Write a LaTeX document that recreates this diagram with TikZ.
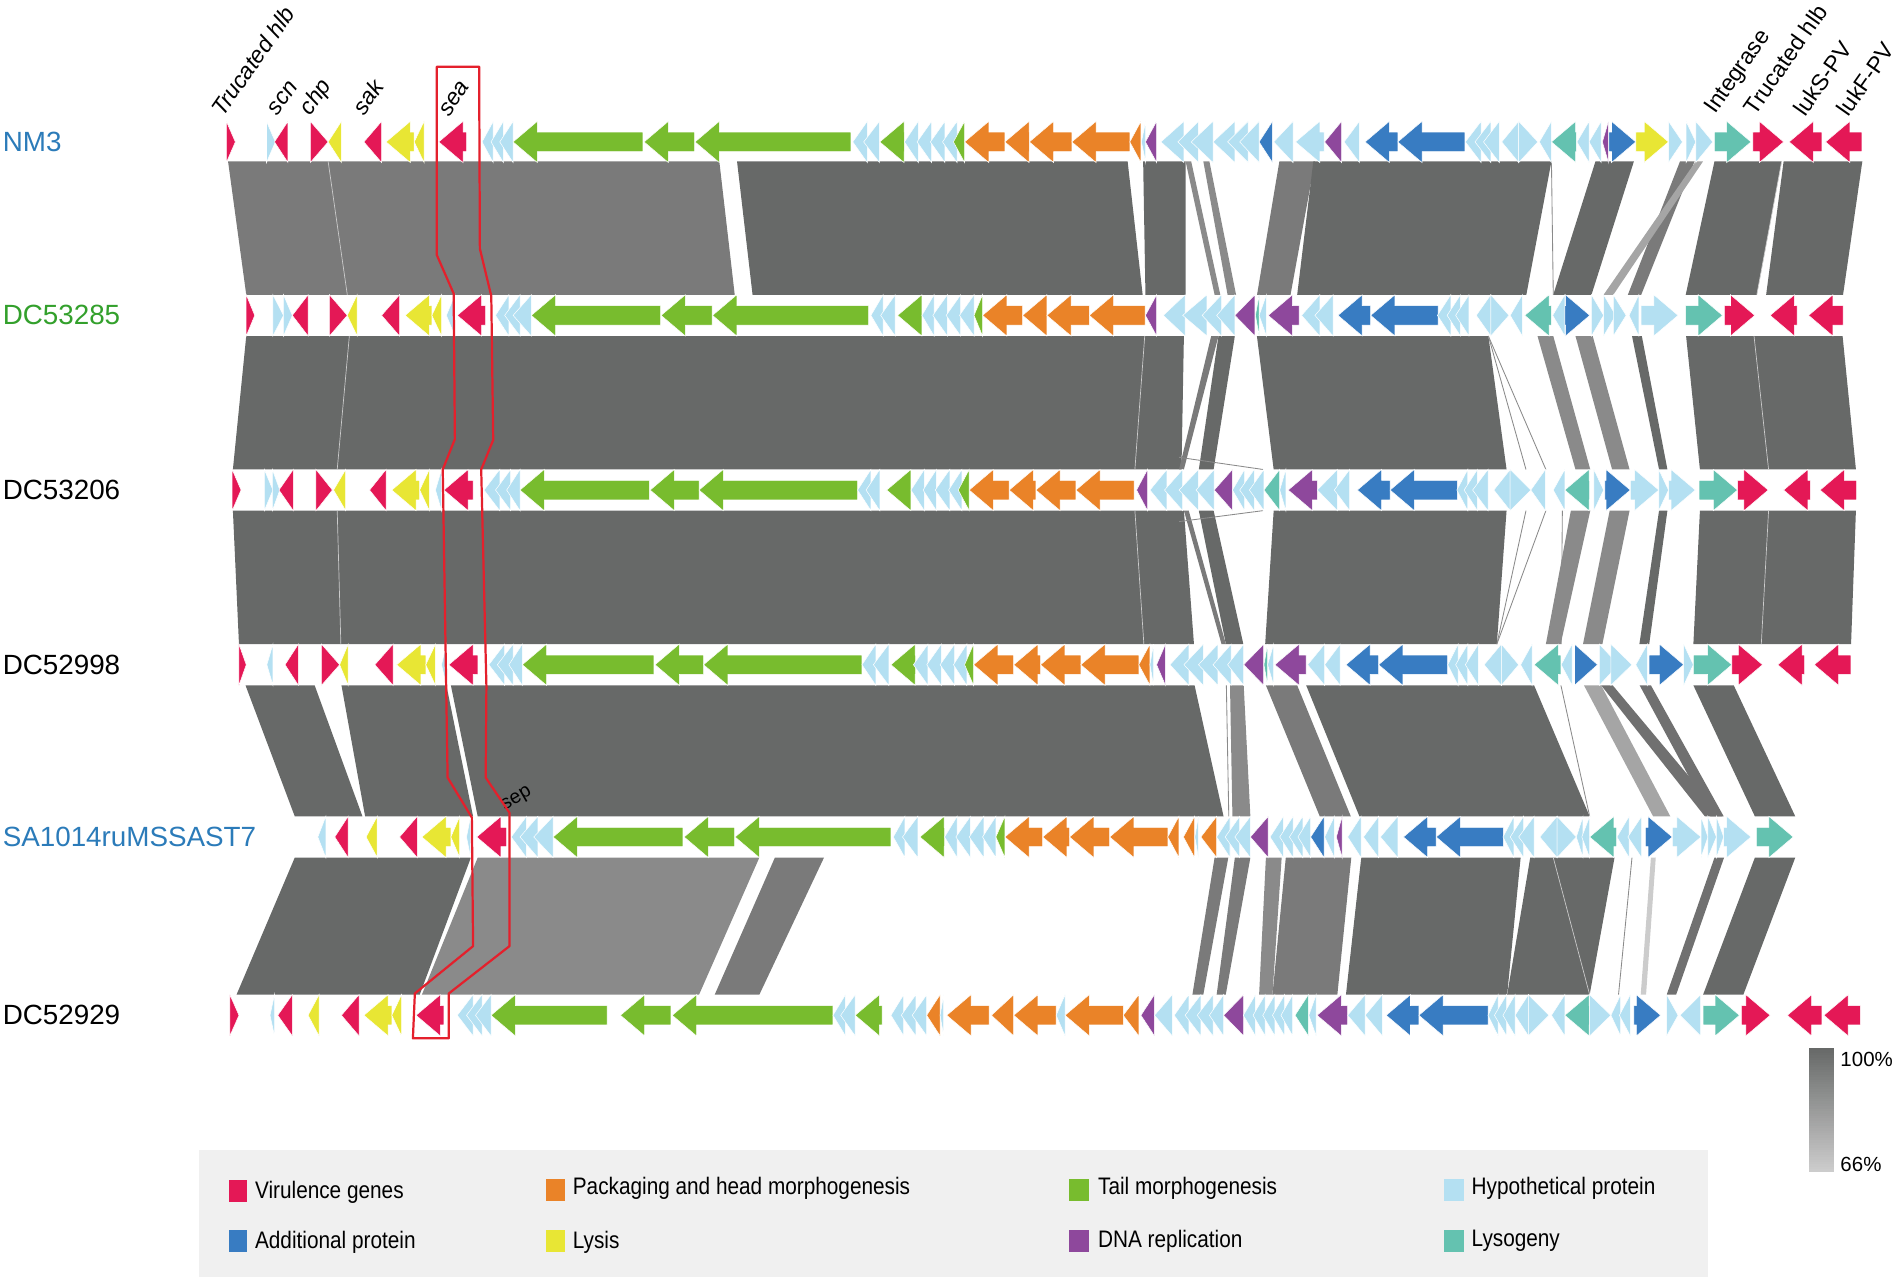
\documentclass[tikz,border=0pt]{standalone}
\usepackage{fontspec}
\setmainfont{Liberation Sans}
\newfontfamily\legendfont[FakeStretch=0.87]{Liberation Sans}
\usepackage{xcolor}
\usetikzlibrary{positioning}
\definecolor{vir}{RGB}{228,24,86}
\definecolor{pack}{RGB}{234,131,40}
\definecolor{tail}{RGB}{120,188,46}
\definecolor{hyp}{RGB}{180,224,242}
\definecolor{addp}{RGB}{56,124,194}
\definecolor{lys}{RGB}{232,230,52}
\definecolor{dna}{RGB}{142,72,156}
\definecolor{lyso}{RGB}{100,194,176}
\definecolor{simdark}{RGB}{103,105,104}
\definecolor{simmid}{RGB}{122,122,122}
\definecolor{simgray}{RGB}{138,138,138}
\definecolor{simlight}{RGB}{165,165,165}
\definecolor{simpale}{RGB}{204,204,204}
\definecolor{simdim}{RGB}{112,112,112}
\definecolor{labblue}{RGB}{43,123,185}
\definecolor{labgreen}{RGB}{51,160,44}
\definecolor{boxred}{RGB}{228,32,44}
\definecolor{legbg}{RGB}{240,240,240}

% one gene arrow: row y, tail x, tip x, colour
\newcommand{\gene}[4]{%
  \pgfmathsetmacro{\gl}{#3-(#2)}%
  \pgfmathsetmacro{\gh}{ifthenelse(\gl>20,20,ifthenelse(\gl<-20,-20,\gl))}%
  \pgfmathsetmacro{\gb}{#3-(\gh)}%
  \filldraw[fill=#4, draw=white, line width=0.3pt] (#2,#1-8) -- (\gb,#1-8) -- (\gb,#1-17) -- (#3,#1) -- (\gb,#1+17) -- (\gb,#1+8) -- (#2,#1+8) -- cycle;}
\newcommand{\generow}[2]{\foreach \a/\b/\c in {#2} {\gene{#1}{\a}{\b}{\c}}}
% similarity blocks between two rows: top y, bottom y, list tl/tr/br/bl/colour
\newcommand{\simband}[3]{\foreach \a/\b/\c/\d/\s in {#3} {\fill[\s] (\a,#1) -- (\b,#1) -- (\c,#2) -- (\d,#2) -- cycle;}}

\begin{document}
\begin{tikzpicture}[
    x=0.025cm, y=-0.025cm,
    rowlab/.style={anchor=west, inner sep=0pt, font=\fontsize{16.3}{19}\selectfont},
    genelab/.style={anchor=base west, rotate=55, inner sep=0pt, font=\fontsize{13.5}{16}\selectfont},
    leglab/.style={anchor=west, inner sep=0pt, font=\legendfont\fontsize{14}{16}\selectfont},
    thinlight/.style={draw=simpale, line width=0.4pt},
    thingray/.style={draw=simgray, line width=0.5pt}
]
\useasboundingbox (0,0) rectangle (1568,1057);

% Links
\simband{133}{243}{188/593/605.7/203/simmid, 607.6/929.6/942/620.4/simdark, 942.4/977.4/977.4/944.3/simdark,
  977.4/982/1006/1001.3/simgray, 992/997/1019/1012/simgray, 1054.7/1084/1063.9/1036.3/simmid,
  1082.7/1279/1258.3/1069.4/simdark, 1315.3/1347/1312/1280.5/simdark, 1385/1397/1353/1342/simmid,
  1398/1404/1330/1322/simlight, 1413.4/1468.8/1448.3/1389.7/simdark, 1470.4/1535.3/1519.4/1456/simdark}
\draw[thinlight] (270.5,133) -- (286.3,243);
\draw[thingray] (1279,133) -- (1280.5,243);
\draw[thinlight] (1468.8,133) -- (1448.3,243);

\simband{277}{387}{203/976/974/192/simdark, 998.5/1004.5/976/972/simmid, 1004.5/1018/1000.5/988.3/simdark,
  1036.2/1227/1242/1050/simdark, 1267.5/1280.5/1311/1298.8/simgray, 1298.8/1313/1343.4/1329/simgray,
  1345.4/1353.5/1374.6/1367.7/simdark, 1390/1519/1530/1401.4/simdark}
\draw[thinlight] (288,277) -- (278,387);
\draw[thinlight] (943.7,277) -- (935.6,387);
\draw[thingray] (1227,277) -- (1258,387);
\draw[thingray] (1227,277) -- (1274.4,387);
\draw[thinlight] (1446,277) -- (1458,387);
\draw[thingray] (972,377) -- (1041,387);

\simband{421}{531}{192/976/984.3/197/simdark, 976/980/1010.6/1007/simmid, 988.3/1000.5/1025/1010.6/simdark,
  1050/1242/1234/1043/simdark, 1295/1311/1286.6/1274.4/simgray, 1327/1343.4/1321/1305/simgray,
  1367.7/1374.6/1359.6/1351.5/simdark, 1401.4/1530/1526/1396/simdark}
\draw[thinlight] (278,421) -- (281,531);
\draw[thinlight] (935.6,421) -- (943,531);
\draw[thingray] (1258,421) -- (1234,531);
\draw[thingray] (1274.4,421) -- (1234,531);
\draw[thingray] (1288,421) -- (1287,531);
\draw[thinlight] (1458,421) -- (1452,531);
\draw[thingray] (972,430) -- (1041,421);

\simband{565}{673}{202.4/259.4/298.8/243/simdark, 281.5/368/390/301/simdark, 371.7/984.8/1008.7/393.8/simdark,
  1014/1025.3/1030.8/1016/simgray, 1043.6/1069.4/1113.6/1088/simmid, 1076.8/1264.7/1310.5/1120.7/simdark,
  1305.8/1320/1377/1362.8/simlight, 1320/1329.5/1420/1405.5/simdim, 1351.7/1361/1421/1410/simdim,
  1396/1429.3/1480/1446.7/simdark}
\draw[thingray] (1011,565) -- (1013,673);
\draw[thingray] (1286.8,565) -- (1310.5,673);

\simband{707}{820}{243/388.2/346/195/simdark, 393.8/626/576.3/347.8/simgray, 638.8/679.3/626/589.2/simmid,
  1001.3/1012.6/992/983/simmid, 1018/1030.8/1010.5/1003/simmid, 1043.6/1056.6/1049/1038/simgray,
  1060/1114/1102.5/1049/simmid, 1122.2/1253.6/1242.5/1109.6/simdark, 1261.5/1331/1310.5/1242.5/simdark,
  1361/1365/1357/1352.6/simpale, 1413.4/1421.3/1381.8/1374/simdim, 1446.7/1480/1437.2/1404/simdark}
\draw[thinlight] (1280.5,707) -- (1310.5,820);
\draw[thingray] (1345.4,707) -- (1334.3,820);

% Rows
\node[rowlab, text=labblue] (nm3) at (2,117) {NM3};
\node[rowlab, text=labgreen] (dc53285) at (2,260) {DC53285};
\node[rowlab] (dc53206) at (2,404) {DC53206};
\node[rowlab] (dc52998) at (2,548) {DC52998};
\node[rowlab, text=labblue] (sa1014) at (2,690) {SA1014ruMSSAST7};
\node[rowlab] (dc52929) at (2,837) {DC52929};

\generow{117}{186.6/194/vir, 219.7/227/hyp, 237.4/226.3/vir, 255.8/270.5/vir, 281.5/270.5/lys, 314.6/300/vir,
  341.5/318.3/lys, 349.6/341.5/lys, 384.6/361.7/vir, 406.6/397.4/hyp, 415/404.8/hyp, 423/412/hyp,
  530/423/tail, 572.6/531/tail, 701.4/573/tail, 715/703/hyp, 725/712/hyp, 745.6/725.3/tail,
  757/745.6/hyp, 768/756/hyp, 779/767/hyp, 789/777/hyp, 795.2/786/tail, 828.4/795.2/pack,
  848.6/828.4/pack, 883.6/848.6/pack, 931.4/883.6/pack, 940.6/931.4/pack, 944.5/941/hyp, 953.5/944.3/dna,
  976/957/hyp, 988/971/hyp, 1000/982/hyp, 1018/1000/hyp, 1029/1012/hyp, 1038/1022/hyp, 1049/1038/addp,
  1066/1050/hyp, 1091.5/1068/hyp, 1106/1092/dna, 1120.7/1108/hyp, 1152.3/1125.4/addp, 1207.7/1152.3/addp,
  1221/1208/hyp, 1229/1216/hyp, 1236/1223/hyp, 1252/1238/hyp, 1252/1267.8/hyp, 1279/1269/hyp,
  1299.5/1279/lyso, 1310/1300/hyp, 1320/1310/hyp, 1326/1321/dna, 1326.4/1348.5/addp, 1348.5/1375.5/lys,
  1375.5/1387/hyp, 1390/1398/hyp, 1398/1412/hyp, 1413.4/1443.5/lyso, 1445/1470.4/vir, 1502/1475/vir,
  1535/1505/vir}

\generow{260}{203/210/vir, 225/233.7/hyp, 233.7/241/hyp, 254/241/vir, 271.6/286.3/vir, 294.4/286.3/lys,
  329.4/314.6/vir, 356/334/lys, 364/356/lys, 375/368/hyp, 400.4/377/vir, 419.5/408.5/hyp, 428.7/416/hyp,
  438/423/hyp, 544.6/438/tail, 587/545/tail, 716/587.4/tail, 728/718/hyp, 738/726/hyp, 760/740/tail,
  770/760/hyp, 781/769/hyp, 792/780/hyp, 803/791/hyp, 810/803/tail, 843/810/pack, 863/843/pack,
  898/863/pack, 944/898/pack, 953.5/944.3/dna, 977/959/hyp, 995/975/hyp, 1007/991/hyp, 1018/1003/hyp,
  1034.5/1018/dna, 1038/1035/lyso, 1044/1038/hyp, 1071/1045.5/dna, 1088/1073/hyp, 1099/1084/hyp,
  1130/1103/addp, 1185.5/1130/addp, 1196/1185/hyp, 1204/1193/hyp, 1211/1200/hyp, 1229/1217/hyp,
  1229/1244/hyp, 1255/1245/hyp, 1279/1257/lyso, 1290/1280/hyp, 1290/1310.6/addp, 1312/1322/hyp,
  1322/1332/hyp, 1330/1340.6/hyp, 1351/1343/hyp, 1353/1383.4/hyp, 1389.7/1420/lyso, 1421.5/1446.6/vir,
  1481.5/1459.3/vir, 1519.4/1491/vir}

\generow{404}{191.4/198.7/vir, 217.9/225/hyp, 224.5/230.7/hyp, 241.8/230/vir, 260.5/274/vir, 285/275/lys,
  318.3/304.7/vir, 346/323/lys, 354/346/lys, 364/359/hyp, 390/366/vir, 412/399/hyp, 421/408.5/hyp,
  428.7/417.7/hyp, 535.4/428.7/tail, 576.3/536/tail, 707/576.3/tail, 718/707/hyp, 725.3/714/hyp,
  751/731/tail, 762/751/hyp, 772/761/hyp, 783/771/hyp, 793/782/hyp, 799/790/tail, 832/799/pack,
  854/832/pack, 887/854/pack, 935/887/pack, 946/937/dna, 962/948/hyp, 975/960/hyp, 988/972/hyp,
  1001/986/hyp, 1016/1001/dna, 1026/1016/hyp, 1034/1022/hyp, 1042/1030/hyp, 1055/1042/lyso,
  1060/1055/hyp, 1086/1062/dna, 1102.5/1086/hyp, 1112.7/1100/hyp, 1146/1119/addp, 1201.4/1146/addp,
  1210/1201/hyp, 1218/1207/hyp, 1226.7/1214/hyp, 1245/1231.5/hyp, 1245/1262/hyp, 1274/1262/hyp,
  1290/1280.5/hyp, 1310.5/1290/lyso, 1314/1322/hyp, 1323/1344/addp, 1344/1367.5/hyp, 1367.5/1375.5/hyp,
  1375.5/1397.6/hyp, 1400.8/1432.4/lyso, 1432.4/1457.7/vir, 1492.5/1470.4/vir, 1530.5/1500.5/vir}

\generow{548}{197/203/vir, 225/220/hyp, 246/235/vir, 265/280/vir, 287/280/lys, 324/309/vir, 351/327/lys,
  359/351/lys, 368/364/hyp, 394/370/vir, 416/403/hyp, 423/410/hyp, 430.6/419.5/hyp, 539/430.6/tail,
  580/540/tail, 710.6/580/tail, 722/710.6/hyp, 732.7/720/hyp, 754.8/734.5/tail, 765/753/hyp,
  776/764/hyp, 787/775/hyp, 797/786/hyp, 802.6/795.2/tail, 835.7/802.6/pack, 857.8/835.7/pack,
  891/857.8/pack, 938.8/891/pack, 948/938.8/pack, 951/948/hyp, 960.8/953.5/dna, 980/964.5/hyp,
  992/976/hyp, 1004/988/hyp, 1015/1000/hyp, 1025.3/1012/hyp, 1041.8/1025.3/dna, 1045/1042/lyso,
  1050/1045/hyp, 1076.8/1051/dna, 1092/1078/hyp, 1104.8/1092/hyp, 1136.5/1109.6/addp, 1193.5/1136.5/addp,
  1202/1193.5/hyp, 1210/1200/hyp, 1218.8/1208/hyp, 1237.7/1223.5/hyp, 1237.7/1252/hyp, 1263/1253.6/hyp,
  1286.8/1264.7/lyso, 1296/1287/hyp, 1298/1317/addp, 1318.5/1334.3/hyp, 1328/1345.4/hyp, 1358/1348.5/hyp,
  1359.6/1388/addp, 1388/1396/hyp, 1396/1427.7/lyso, 1427.7/1453/vir, 1487.8/1465.6/vir, 1525.8/1495.7/vir}

\generow{690}{268.6/262/hyp, 287/276/vir, 311/301.8/lys, 344/329.4/vir, 371.7/347.8/lys, 379/371.7/lys,
  388/384.6/hyp, 417.7/393/vir, 434/421.4/hyp, 443.4/428.7/hyp, 456/440/hyp, 563/456/tail,
  605.7/564/tail, 734.5/606/tail, 746/736.4/hyp, 756.6/744/hyp, 778.7/758.4/tail, 789/778.7/hyp,
  800/788/hyp, 811/799/hyp, 821/810/hyp, 828.4/821/tail, 859.6/828.4/pack, 881.7/859.6/pack,
  914.8/881.7/pack, 962.7/914.8/pack, 971.9/962.7/pack, 984.8/975.6/pack, 988/985/hyp, 1003/990/pack,
  1014/1003/hyp, 1022/1010/hyp, 1030.8/1018/hyp, 1045.5/1030.8/dna, 1058/1047/hyp, 1066/1055/hyp,
  1074/1063/hyp, 1080.5/1070/hyp, 1091.5/1080.5/addp, 1100/1092/hyp, 1106.4/1101.7/dna, 1122/1111/hyp,
  1136.5/1124/hyp, 1152.3/1138/hyp, 1184/1157/addp, 1239.3/1184/addp, 1248/1239/hyp, 1256/1245/hyp,
  1264.7/1252/hyp, 1283.6/1269.4/hyp, 1283.6/1299.5/hyp, 1305/1299.5/hyp, 1310.5/1304/hyp,
  1332.7/1310.5/lyso, 1343/1333/hyp, 1353.3/1342/hyp, 1356.5/1378.6/addp, 1378.6/1402.3/hyp,
  1402.3/1408/hyp, 1408/1415/hyp, 1415/1421/hyp, 1421/1443.5/hyp, 1448/1478.3/lyso}

\generow{837}{189.5/197/vir, 226.3/222.6/hyp, 241/229/vir, 263/254/lys, 296/281.5/vir, 323/300/lys,
  331/323/lys, 366/343/vir, 390/377/hyp, 397.4/384.6/hyp, 404.8/392/hyp, 500.5/404.8/tail,
  553/511.5/tail, 686.7/554.2/tail, 697/686.7/hyp, 705/693/hyp, 727.2/705/tail, 745/734.5/hyp,
  755/743/hyp, 764/752/hyp, 775/764/pack, 778/775/hyp, 815.5/780.5/pack, 835.7/817.3/pack,
  870.7/835.7/pack, 878/870.7/hyp, 926/878/pack, 938.8/926/pack, 951.7/940.6/dna, 966.4/951.7/hyp,
  980/968/hyp, 990/977/hyp, 1000/987/hyp, 1008.7/997/hyp, 1025.3/1008.7/dna, 1035/1025/hyp,
  1043/1033/hyp, 1051/1041/hyp, 1059/1049/hyp, 1065.7/1056/hyp, 1078.6/1067.6/lyso, 1085/1079/hyp,
  1111/1085.8/dna, 1125.4/1111/hyp, 1139.6/1125.4/hyp, 1169.7/1142.8/addp, 1226.7/1169.7/addp,
  1235/1226.7/hyp, 1242/1232/hyp, 1249/1239/hyp, 1260/1249/hyp, 1260/1277/hyp, 1290/1279/hyp,
  1310.5/1290/lyso, 1310.5/1328/hyp, 1336/1328/hyp, 1344/1335/hyp, 1347/1369/addp, 1374/1383.4/hyp,
  1402/1385/hyp, 1404/1434/lyso, 1435.6/1459.3/vir, 1502/1473.5/vir, 1533.7/1503.6/vir}

% Gene names
\node[genelab, font=\fontsize{13.5}{16}\selectfont\itshape] (hlbL) at (184,97) {Trucated hlb};
\node[genelab, font=\fontsize{13.5}{16}\selectfont\itshape] (scn) at (229,96) {scn};
\node[genelab, font=\fontsize{13.5}{16}\selectfont\itshape] (chp) at (256,96) {chp};
\node[genelab, font=\fontsize{13.5}{16}\selectfont\itshape] (sak) at (300,96) {sak};
\node[genelab, font=\fontsize{13.5}{16}\selectfont\itshape] (sea) at (370,97) {sea};
\node[genelab] (integrase) at (1414,95) {Integrase};
\node[genelab] (hlbR) at (1447,96) {Trucated hlb};
\node[genelab] (luks) at (1488,97) {lukS-PV};
\node[genelab] (lukf) at (1524,97) {lukF-PV};
\node[anchor=base west, rotate=30, inner sep=0pt, font=\fontsize{11.5}{13}\selectfont] (sep) at (416,668) {sep};

% sea / sep outline
\draw[boxred, line width=1.3pt, line join=round] (360,55) -- (360,210) -- (374,242) -- (375,362) -- (365,387)
  -- (369,641) -- (389,674) -- (390,780) -- (342,819) -- (340.4,856) -- (370,856) -- (370,819) -- (420,780)
  -- (420,670) -- (400.4,641) -- (401,566) -- (396.7,387) -- (406.6,362.7) -- (405,244) -- (395.6,205)
  -- (395,55) -- cycle;

% Identity scale
\foreach \i in {0,...,50} {
  \pgfmathsetmacro{\p}{2*\i}
  \fill[simpale!\p!simdark] (1491,864+2*\i) rectangle (1512,866.2+2*\i);
}
\node[anchor=west, inner sep=0pt, font=\fontsize{12}{14}\selectfont] (scalehi) at (1517,873) {100\%};
\node[anchor=west, inner sep=0pt, font=\fontsize{12}{14}\selectfont] (scalelo) at (1517,960) {66\%};

% Legend
\fill[legbg] (164,948) rectangle (1408,1053);
\fill[vir] (188.6,973) rectangle (204,991);
\node[leglab] (lvir) at (210,983) {Virulence genes};
\fill[addp] (188.6,1014) rectangle (204,1032);
\node[leglab] (laddp) at (210,1024) {Additional protein};
\fill[pack] (450,972) rectangle (465.5,990);
\node[leglab] (lpack) at (472,980) {Packaging and head morphogenesis};
\fill[lys] (450,1014) rectangle (465.5,1032);
\node[leglab] (llys) at (472,1024) {Lysis};
\fill[tail] (881,972) rectangle (897.5,990);
\node[leglab] (ltail) at (905,980) {Tail morphogenesis};
\fill[dna] (881,1014) rectangle (897.5,1032);
\node[leglab] (ldna) at (905,1023) {DNA replication};
\fill[hyp] (1190.7,972) rectangle (1206.8,990);
\node[leglab] (lhyp) at (1213,980) {Hypothetical protein};
\fill[lyso] (1190.7,1014) rectangle (1206.8,1032);
\node[leglab] (llyso) at (1213,1023) {Lysogeny};
\end{tikzpicture}
\end{document}
